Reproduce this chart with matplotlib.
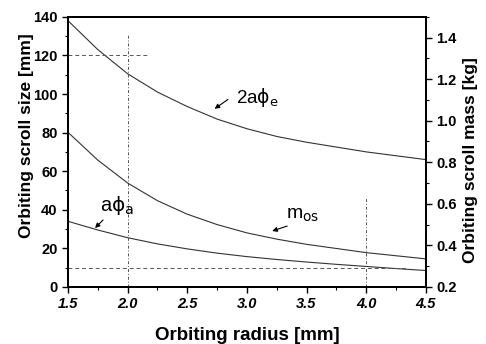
import matplotlib
matplotlib.use("Agg")
import matplotlib.pyplot as plt
from matplotlib.ticker import MultipleLocator

plt.rcParams['font.family'] = ['Liberation Sans', 'DejaVu Sans']

# orbiting radius [mm]
radius = [1.5, 1.75, 2.0, 2.25, 2.5, 2.75, 3.0, 3.25, 3.5, 3.75, 4.0, 4.25, 4.5]
# 2a*phi_e [mm]
size_e = [138, 123, 110.5, 101, 93.5, 87, 82, 78, 75, 72.5, 70, 68, 66]
# a*phi_a [mm]
size_a = [34, 29.5, 25.5, 22.3, 19.7, 17.5, 15.7, 14.2, 12.9, 11.7, 10.6, 9.5, 8.5]
# orbiting scroll mass [kg]
mass = [0.944, 0.81, 0.70, 0.615, 0.55, 0.50, 0.46, 0.43, 0.405, 0.385, 0.365, 0.35, 0.335]

fig = plt.figure(figsize=(4.86, 3.44), dpi=100)
ax = fig.add_axes([0.140, 0.166, 0.736, 0.785])
ax2 = ax.twinx()

lc = '#333333'
ax.plot(radius, size_e, color=lc, lw=0.8)
ax.plot(radius, size_a, color=lc, lw=0.8)
ax2.plot(radius, mass, color=lc, lw=0.8)

# guide lines
gc = '#555555'
ax.plot([1.5, 2.16], [120, 120], color=gc, lw=0.7, ls=(0, (4, 3)))
ax.plot([2.0, 2.0], [0, 131], color=gc, lw=0.7, ls=(0, (3, 2, 1, 2)))
ax.plot([1.5, 4.35], [10, 10], color=gc, lw=0.7, ls=(0, (4, 3)))
ax.plot([4.0, 4.0], [0, 46], color=gc, lw=0.7, ls=(0, (3, 2, 1, 2)))

ax.set_xlim(1.5, 4.5)
ax.set_ylim(0, 140)
ax2.set_ylim(0.2, 1.5)

ax.xaxis.set_major_locator(MultipleLocator(0.5))
ax.xaxis.set_minor_locator(MultipleLocator(0.25))
ax.yaxis.set_major_locator(MultipleLocator(20))
ax.yaxis.set_minor_locator(MultipleLocator(10))
ax2.yaxis.set_minor_locator(MultipleLocator(0.1))
ax2.set_yticks([0.2, 0.4, 0.6, 0.8, 1.0, 1.2, 1.4])

for a in (ax, ax2):
    a.tick_params(which='major', direction='out', length=4, width=1.0, labelsize=10.5)
    a.tick_params(which='minor', direction='out', length=2, width=0.8)
    for s in a.spines.values():
        s.set_linewidth(1.4)

for lbl in ax.get_xticklabels():
    lbl.set_fontweight('bold')
    lbl.set_fontstyle('italic')
for lbl in ax.get_yticklabels() + ax2.get_yticklabels():
    lbl.set_fontweight('bold')

ax.set_xlabel('Orbiting radius [mm]', fontsize=13.5, fontweight='bold', labelpad=11)
ax.set_ylabel('Orbiting scroll size [mm]', fontsize=12.5, fontweight='bold')
ax2.set_ylabel('Orbiting scroll mass [kg]', fontsize=12.5, fontweight='bold')
ax.yaxis.set_label_coords(-0.095, 0.56)
ax2.yaxis.set_label_coords(1.105, 0.47)

# curve labels with arrows
arr = dict(arrowstyle='-|>', color='black', lw=0.8, mutation_scale=7)
ax.annotate('', xy=(2.71, 91.5), xytext=(2.86, 98), arrowprops=arr)
ax.text(2.91, 98, r'2a$\mathrm{\phi}_\mathrm{e}$', fontsize=13.5, va='center', ha='left')

ax.annotate('', xy=(1.71, 29.5), xytext=(1.81, 35.7), arrowprops=arr)
ax.text(1.77, 42, r'a$\mathrm{\phi}_\mathrm{a}$', fontsize=14.5, va='center', ha='left')

ax.annotate('', xy=(3.19, 28.5), xytext=(3.36, 32), arrowprops=arr)
ax.text(3.33, 37, r'm$_{\mathrm{os}}$', fontsize=14, va='center', ha='left')

fig.savefig('out.png', dpi=100)
